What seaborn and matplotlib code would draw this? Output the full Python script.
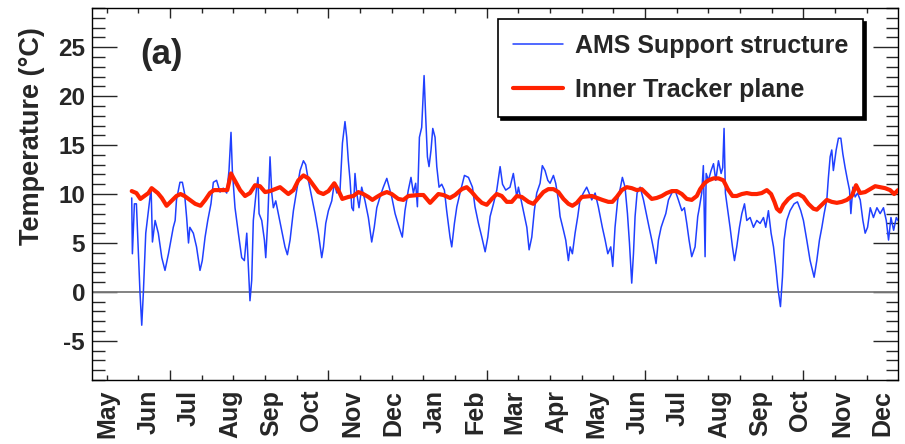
import numpy as np
import pandas as pd
import matplotlib
matplotlib.use("Agg")
import matplotlib.pyplot as plt
import matplotlib.dates as mdates
from matplotlib.ticker import MultipleLocator, FixedLocator
import seaborn as sns

# Data (days since 2011-05-01, temperature in C)
START = "2011-05-01"

ams_days = [18.5, 19.0, 20.5, 22.0, 24.7, 26.0, 27.2, 29.0, 31.0, 33.0, 34.0, 36.0, 38.4, 41.0, 43.4,
            46.0, 49.6, 51.0, 52.0, 54.6, 56.4, 58.0, 59.6, 61.0, 62.0, 64.6, 67.0, 69.6, 71.3, 73.4,
            75.4, 77.8, 79.6, 82.0, 84.6, 87.0, 89.6, 91.3, 92.8, 93.8, 95.8, 98.3, 100.8, 102.8, 104.6,
            105.8, 107.0, 108.3, 109.5, 112.0, 113.0, 113.8, 115.8, 117.8, 118.8, 120.3, 122.0, 123.3,
            124.5, 126.3, 128.2, 130.7, 133.2, 135.0, 137.0, 139.5, 142.0, 144.5, 147.0, 148.7, 150.7,
            153.2, 155.7, 158.2, 160.7, 162.0, 163.7, 165.7, 168.2, 170.1, 172.0, 174.4, 176.2, 178.1,
            179.4, 180.6, 181.9, 183.2, 184.4, 185.6, 186.9, 188.6, 190.6, 193.1, 195.6, 198.1, 200.0,
            201.9, 204.3, 206.8, 209.4, 213.1, 215.6, 219.3, 221.0, 223.0, 225.5, 227.5, 229.3, 231.0,
            232.3, 233.8, 235.5, 237.3, 238.5, 239.8, 241.0, 242.5, 243.8, 245.5, 246.8, 248.5, 250.5,
            252.5, 254.2, 256.7, 258.0, 260.0, 261.8, 264.2, 267.5, 270.5, 273.5, 275.4, 278.0, 280.5,
            283.0, 285.0, 286.7, 289.2, 291.7, 294.2, 296.0, 298.4, 301.6, 304.1, 306.7, 307.9, 311.6,
            314.2, 315.9, 317.9, 319.8, 321.6, 324.1, 325.8, 327.8, 329.9, 331.6, 334.1, 335.8, 337.8,
            339.1, 341.6, 343.3, 345.3, 346.6, 348.3, 350.3, 352.3, 354.0, 356.5, 359.0, 360.8, 362.8,
            365.3, 367.7, 370.7, 372.8, 374.8, 377.0, 378.5, 380.2, 382.2, 384.0, 385.7, 387.7, 389.5,
            391.0, 392.7, 394.0, 395.2, 396.7, 399.0, 401.5, 404.0, 405.7, 407.7, 409.7, 410.9, 412.7,
            414.7, 416.4, 418.2, 420.2, 422.7, 425.1, 427.6, 430.2, 432.1, 433.9, 435.6, 437.6, 440.1,
            442.1, 443.3, 445.1, 446.3, 447.6, 448.4, 450.1, 452.1, 453.9, 455.6, 457.6, 459.6, 460.8,
            461.8, 462.8, 464.6, 466.3, 468.1, 469.6, 471.3, 473.3, 475.1, 477.1, 478.8, 481.3, 483.8,
            486.3, 488.8, 491.3, 493.0, 495.0, 497.0, 498.8, 500.5, 502.0, 504.0, 505.5, 506.7, 508.7,
            511.2, 514.2, 516.7, 519.2, 521.2, 523.7, 526.2, 529.2, 531.2, 533.2, 535.0, 536.7, 538.7,
            539.9, 541.2, 542.4, 543.6, 545.7, 547.4, 549.2, 550.7, 552.4, 554.2, 555.7, 556.7, 558.2,
            559.9, 561.7, 563.7, 565.7, 567.4, 569.2, 571.2, 573.6, 576.2, 578.6, 581.1, 583.2, 584.9,
            586.7, 588.7, 590.7, 592.0]
ams_temp = [9.6, 3.9, 9.0, 9.0, -0.1, -3.4, -0.1, 6.0, 8.3, 10.6, 5.1, 7.3, 6.0, 3.5, 2.2,
            3.9, 6.6, 7.3, 9.4, 11.2, 11.2, 10.1, 7.6, 5.0, 6.6, 6.0, 4.6, 2.2, 3.2, 5.6,
            7.3, 9.0, 11.2, 11.4, 10.2, 10.6, 10.1, 12.4, 16.3, 12.4, 8.6, 6.0, 3.5, 3.2, 6.0,
            2.5, -0.9, 1.2, 7.3, 10.7, 11.7, 8.0, 7.3, 5.3, 3.5, 7.3, 13.8, 10.1,
            8.6, 9.3, 8.0, 6.3, 4.6, 3.8, 5.3, 8.3, 10.4, 12.4, 13.4, 13.0, 11.4,
            9.7, 8.0, 6.0, 3.5, 4.6, 7.0, 8.3, 9.3, 11.1, 10.1, 10.4, 15.2, 17.4,
            15.8, 13.4, 11.4, 8.6, 8.3, 12.1, 10.1, 8.6, 10.7, 9.3, 7.6, 5.1, 6.6,
            8.6, 9.7, 10.7, 11.6, 9.7, 8.0, 6.3, 5.6, 8.3, 10.4, 11.7, 10.1, 11.1,
            8.7, 15.8, 16.8, 22.1, 17.9, 13.8, 12.8, 14.5, 16.7, 15.8, 12.8, 10.7, 11.0,
            10.4, 8.3, 5.6, 4.6, 7.0, 8.7, 10.1, 11.9, 11.7, 10.7, 8.7, 7.0, 5.6,
            4.1, 5.6, 7.7, 9.0, 10.4, 12.8, 11.0, 10.4, 10.7, 12.1, 9.7, 10.7, 8.3,
            6.6, 4.3, 5.6, 8.3, 10.1, 11.1, 12.9, 12.4, 11.4, 11.1, 11.9, 11.1, 9.4,
            7.7, 6.3, 5.3, 3.2, 4.6, 3.9, 6.0, 7.7, 9.4, 10.1, 10.7, 10.1, 9.4,
            10.1, 8.7, 6.6, 5.3, 3.9, 4.6, 2.6, 6.6, 9.4, 10.5, 11.7, 10.7, 8.0,
            5.0, 0.9, 3.9, 7.7, 10.1, 10.7, 9.4, 7.7, 6.6, 5.3, 3.9, 2.9, 5.3,
            6.6, 7.3, 8.0, 9.4, 10.1, 10.4, 9.4, 8.3, 8.6, 7.0, 5.3, 3.6, 4.6,
            7.7, 8.6, 10.1, 12.9, 3.6, 12.1, 11.4, 12.4, 13.1, 11.4, 13.4, 12.1, 12.7,
            16.7, 10.1, 8.3, 6.6, 4.6, 3.2, 4.6, 6.6, 8.0, 9.0, 7.3, 7.6, 6.6,
            7.3, 7.0, 7.6, 6.6, 8.3, 6.0, 4.6, 2.6, 0.5, -1.5, 1.5, 5.3, 7.3,
            8.3, 9.0, 9.2, 8.3, 7.3, 5.3, 3.2, 1.5, 3.2, 5.3, 6.6, 8.0, 9.4,
            11.7, 13.8, 14.5, 12.4, 14.5, 15.7, 15.7, 14.1, 12.7, 11.4, 10.4, 8.0, 10.7,
            9.7, 10.1, 9.4, 7.3, 6.0, 6.6, 8.6, 7.6, 8.6, 8.0, 8.6, 7.3, 5.3,
            7.6, 6.3, 7.6, 7.3]

tracker_days = [18.5, 22.0, 25.0, 28.0, 31.0, 33.4, 38.0, 41.0, 44.6, 49.0, 52.0, 55.0, 58.0, 62.0,
                66.0, 70.0, 73.5, 77.0, 80.0, 86.0, 90.0, 92.8, 96.0, 99.6, 103.3, 107.0, 110.8, 114.5,
                118.3, 122.0, 129.5, 135.7, 139.5, 143.2, 147.0, 150.7, 154.4, 158.2, 161.9, 165.7,
                170.1, 173.1, 176.1, 180.6, 184.4, 188.1, 191.8, 195.6, 198.6, 201.9, 205.6, 209.4,
                213.1, 218.0, 221.8, 225.5, 233.0, 236.8, 241.8, 248.0, 251.8, 256.7, 260.5, 265.5,
                269.2, 273.0, 276.7, 280.5, 284.2, 288.0, 291.7, 295.4, 299.2, 302.9, 306.7, 310.4,
                315.4, 319.1, 322.8, 326.6, 330.3, 334.1, 337.8, 341.6, 345.3, 348.3, 351.6, 355.3,
                362.8, 370.7, 375.2, 378.2, 381.5, 385.3, 389.0, 392.7, 396.5, 400.2, 404.0, 407.7,
                411.4, 415.2, 418.9, 422.7, 426.4, 430.2, 433.9, 437.6, 441.4, 443.9, 447.1, 450.1,
                453.9, 457.6, 461.3, 464.6, 468.1, 471.3, 475.1, 478.8, 482.5, 486.3, 490.0, 493.8,
                497.0, 499.5, 501.3, 503.7, 506.2, 509.9, 513.7, 517.4, 521.2, 524.9, 528.7, 531.2,
                534.9, 538.7, 542.4, 546.2, 549.9, 553.7, 557.4, 560.6, 563.6, 567.4, 571.1, 574.9,
                578.6, 582.3, 586.1, 589.1, 592.0]
tracker_temp = [10.3, 10.1, 9.5, 9.8, 10.1, 10.6, 10.1, 9.6, 8.8, 9.4, 9.8, 10.0, 9.8, 9.4,
                9.0, 8.8, 9.4, 10.1, 10.4, 10.4, 10.4, 12.1, 11.3, 10.4, 9.8, 10.1, 10.9, 10.8,
                10.2, 10.3, 10.7, 10.0, 10.4, 11.4, 11.9, 11.6, 10.9, 10.2, 10.0, 10.3,
                11.1, 10.4, 9.5, 9.7, 9.8, 10.2, 10.0, 9.7, 9.4, 9.7, 10.0, 10.2,
                10.0, 9.5, 9.4, 9.8, 9.9, 9.9, 9.1, 10.0, 9.9, 9.6, 9.9, 10.5,
                10.7, 10.2, 9.6, 9.1, 8.9, 9.5, 10.0, 9.8, 9.2, 9.2, 9.8, 9.7,
                9.2, 9.0, 9.6, 10.2, 10.5, 10.5, 10.2, 9.5, 9.0, 8.8, 9.1, 9.7,
                9.8, 9.4, 9.2, 9.2, 9.7, 10.4, 10.7, 10.6, 10.4, 10.5, 10.0, 9.5,
                9.6, 9.8, 10.1, 10.3, 10.3, 10.0, 9.5, 9.4, 9.8, 10.5, 11.1, 11.4,
                11.6, 11.6, 11.4, 10.5, 9.8, 9.8, 10.0, 10.1, 10.0, 10.0, 10.1, 10.4,
                10.0, 9.2, 8.5, 8.2, 8.9, 9.5, 9.9, 10.0, 9.7, 9.0, 8.5, 8.4,
                8.9, 9.4, 9.2, 9.1, 9.2, 9.4, 9.8, 10.9, 10.1, 10.2, 10.5, 10.8,
                10.7, 10.6, 10.4, 10.0, 10.4]

month_labels = ["May", "Jun", "Jul", "Aug", "Sep", "Oct", "Nov", "Dec", "Jan", "Feb",
                "Mar", "Apr", "May", "Jun", "Jul", "Aug", "Sep", "Oct", "Nov", "Dec"]

BLUE = "#2040ff"
RED = "#ff2200"

sns.set_style("ticks")
plt.rcParams.update({
    "font.weight": "bold",
    "axes.labelweight": "bold",
    "axes.unicode_minus": False,
    "axes.linewidth": 1.0,
    "axes.edgecolor": "black",
})
plt.rcParams["font.family"] = ["Liberation Sans", "DejaVu Sans"]

start = pd.Timestamp(START)
ams = pd.DataFrame({"date": start + pd.to_timedelta(ams_days, unit="D"), "temp": ams_temp})
tracker = pd.DataFrame({"date": start + pd.to_timedelta(tracker_days, unit="D"), "temp": tracker_temp})

fig = plt.figure(figsize=(9.05, 4.44), dpi=100)
ax = fig.add_axes([0.1017, 0.1441, 0.8906, 0.8378])

ax.axhline(0, color="#7a7a7a", lw=1.3, zorder=1)
sns.lineplot(data=ams, x="date", y="temp", color=BLUE, lw=1.1, estimator=None, sort=False, ax=ax, zorder=3)
line_ams = ax.lines[-1]
sns.lineplot(data=tracker, x="date", y="temp", color=RED, lw=3.0, estimator=None, sort=False, ax=ax, zorder=4)
line_trk = ax.lines[-1]

ax.set_xlim(start - pd.Timedelta(days=11.2), start + pd.Timedelta(days=592))
ax.set_ylim(-9, 29)
ax.set_xlabel("")
ax.set_ylabel("Temperature (°C)", fontsize=19.5)
ax.yaxis.set_label_coords(-0.058, 0.656)

# ROOT-like tick marks: uniform divisions, independent from the month labels
t0 = mdates.date2num(start)
ax.xaxis.set_major_locator(FixedLocator(t0 + 47.2 + 118.5 * np.arange(0, 5)))
ax.xaxis.set_minor_locator(FixedLocator(t0 + 47.2 + 23.7 * np.arange(-2, 24)))
ax.tick_params(axis="x", which="major", direction="in", length=7, width=1,
               top=True, bottom=True, labelbottom=False)
ax.tick_params(axis="x", which="minor", direction="in", length=3.6, width=1, top=True, bottom=True)

ax.yaxis.set_major_locator(MultipleLocator(5))
ax.yaxis.set_minor_locator(MultipleLocator(1))
ax.tick_params(axis="y", which="major", direction="in", length=18, width=1,
               left=True, right=True, labelsize=17.5, pad=5)
ax.tick_params(axis="y", which="minor", direction="in", length=9, width=1, left=True, right=True)

month_pos = mdates.date2num(pd.date_range(START, periods=len(month_labels), freq="MS"))
sec = ax.secondary_xaxis("bottom")
sec.set_xticks(month_pos, month_labels, rotation=90, fontsize=18, fontweight="bold")
sec.tick_params(axis="x", length=0, pad=7)
sec.spines["bottom"].set_visible(False)

ax.text(0.086, 0.874, "(a)", transform=ax.transAxes, fontsize=25, fontweight="bold",
        ha="center", va="center")

leg = ax.legend([line_ams, line_trk], ["AMS Support structure", "Inner Tracker plane"],
                loc="upper right", bbox_to_anchor=(0.9566, 0.970), borderaxespad=0,
                fontsize=18, frameon=True, fancybox=False, framealpha=1,
                edgecolor="black", handlelength=2.0, handletextpad=0.45,
                borderpad=0.6, labelspacing=0.8,
                shadow={"color": "black", "alpha": 1})
leg.get_frame().set_linewidth(1.2)

fig.savefig("out.png", dpi=100)
